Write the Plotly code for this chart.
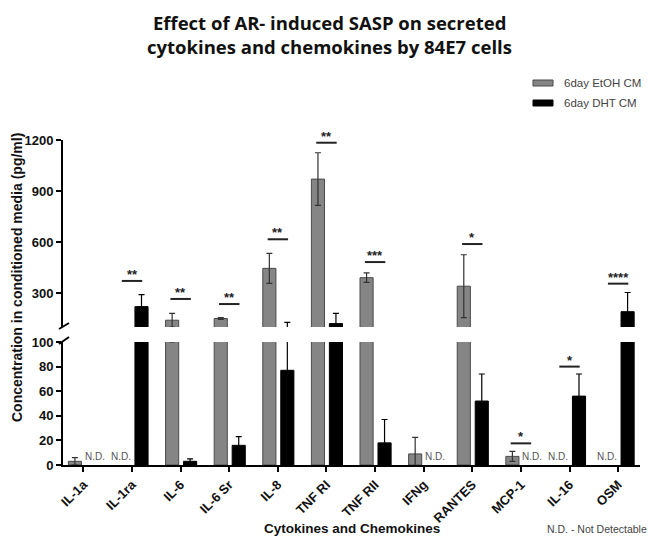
import plotly.graph_objects as go

categories = ["IL-1a", "IL-1ra", "IL-6", "IL-6 Sr", "IL-8", "TNF RI", "TNF RII",
              "IFNg", "RANTES", "MCP-1", "IL-16", "OSM"]
etoh_vals = [3, None, 140, 150, 445, 970, 390, 9, 340, 7, None, None]
etoh_err = [3, None, 40, 5, 88, 155, 28, 13.5, 185, 4, None, None]
dht_vals = [None, 220, 3, 16, 77, 120, 18, None, 52, None, 56, 190]
dht_err = [None, 70, 2, 7, 50, 60, 19, None, 22, None, 18, 113]

# significance markers: (category index, panel, level, label)
sig_idx = [1, 2, 3, 4, 5, 6, 8, 9, 10, 11]
sig_panel = ["u", "u", "u", "u", "u", "u", "u", "l", "l", "u"]
sig_level = [371, 265, 235, 616, 1184, 482, 588, 17.6, 80, 355]
sig_text = ["**", "**", "**", "**", "**", "***", "*", "*", "*", "****"]

lower_ticks = [0, 20, 40, 60, 80, 100]
upper_ticks = [300, 600, 900, 1200]

GRAY = "#858585"
GRAY_LINE = "#4a4a4a"
BW = 0.27
OFF_G = -0.31
OFF_B = 0.06

xs = list(range(len(categories)))
FONT = "Liberation Sans, Arial, sans-serif"

fig = go.Figure()
for yax, xax in [("y", "x"), ("y2", "x2")]:
    fig.add_trace(go.Bar(
        x=xs, y=etoh_vals, width=BW, offset=OFF_G, xaxis=xax, yaxis=yax,
        marker=dict(color=GRAY, line=dict(color=GRAY_LINE, width=1)),
        error_y=dict(type="data", array=etoh_err, symmetric=True,
                     color="#333333", thickness=1.2, width=3),
        name="6day EtOH CM", showlegend=False))
    fig.add_trace(go.Bar(
        x=xs, y=dht_vals, width=BW, offset=OFF_B, xaxis=xax, yaxis=yax,
        marker=dict(color="#000000", line=dict(color="#000000", width=1)),
        error_y=dict(type="data", array=dht_err, symmetric=True,
                     color="#000000", thickness=1.2, width=3),
        name="6day DHT CM", showlegend=False))

# page offset (body margin) and plot area in page pixels: x 63..640, y 140..465
OFF = 8
W, H = 661 - OFF, 549 - OFF
L = 63 - OFF
R = W - (640 - OFF)
T = 140 - OFF
B = H - (465 - OFF)
pw = W - L - R
ph = H - T - B
def px(x):
    return (x - OFF - L) / pw
def py(y):
    return (H - B - (y - OFF)) / ph

low_top = py(342)
up_bot = py(327)

shapes = []
annotations = []

# significance lines and stars
for i, p, lev, s in zip(sig_idx, sig_panel, sig_level, sig_text):
    yref = "y2" if p == "u" else "y"
    shapes.append(dict(type="line", xref="x", yref=yref, x0=i - 0.21, x1=i + 0.21,
                       y0=lev, y1=lev, line=dict(color="#222222", width=2)))
    annotations.append(dict(x=i, y=lev, xref="x", yref=yref, text=s, showarrow=False,
                            yanchor="bottom", yshift=-3,
                            font=dict(family=FONT, size=13, color="#222222", weight="bold")))

# N.D. labels
for i in xs:
    if etoh_vals[i] is None:
        annotations.append(dict(x=i - 0.23, y=0, xref="x", yref="y", text="N.D.",
                                showarrow=False, yanchor="bottom", yshift=1,
                                font=dict(family=FONT, size=10, color="#555555")))
    if dht_vals[i] is None:
        annotations.append(dict(x=i + 0.23, y=0, xref="x", yref="y", text="N.D.",
                                showarrow=False, yanchor="bottom", yshift=1,
                                font=dict(family=FONT, size=10, color="#555555")))

# axis break slashes
for y0, y1 in [(329, 323), (344, 337)]:
    shapes.append(dict(type="line", xref="paper", yref="paper",
                       x0=px(59), x1=px(69), y0=py(y0), y1=py(y1),
                       line=dict(color="#000000", width=2)))

# manual legend
for (yt, yb), label in [((80, 86), "6day EtOH CM"), ((100, 106), "6day DHT CM")]:
    col = GRAY if "EtOH" in label else "#000000"
    lc = GRAY_LINE if "EtOH" in label else "#000000"
    shapes.append(dict(type="rect", xref="paper", yref="paper",
                       x0=px(533), x1=px(553), y0=py(yb), y1=py(yt),
                       fillcolor=col, line=dict(color=lc, width=1)))
    annotations.append(dict(x=px(562), y=py((yt + yb) / 2), xref="paper", yref="paper",
                            text=label, showarrow=False, xanchor="left", yanchor="middle",
                            font=dict(family=FONT, size=11.5, color="#444444")))

# title (two lines)
for ty, line in [(22, "Effect of AR- induced SASP on secreted"),
                 (47, "cytokines and chemokines by 84E7 cells")]:
    annotations.append(dict(x=px(329), y=py(ty), xref="paper", yref="paper",
                            text=line, showarrow=False, xanchor="center", yanchor="middle",
                            font=dict(family="Open Sans, sans-serif", size=18.5,
                                      color="#111111", weight="bold")))
# y title
annotations.append(dict(x=px(17), y=py(278), xref="paper", yref="paper",
                        text="Concentration in conditioned media (pg/ml)", textangle=-90,
                        showarrow=False, xanchor="center", yanchor="middle",
                        font=dict(family=FONT, size=14, color="#111111", weight="bold")))
# x title
annotations.append(dict(x=px(352), y=py(528), xref="paper", yref="paper",
                        text="Cytokines and Chemokines",
                        showarrow=False, xanchor="center", yanchor="middle",
                        font=dict(family=FONT, size=13.5, color="#111111", weight="bold")))
annotations.append(dict(x=px(597), y=py(529), xref="paper", yref="paper",
                        text="N.D. - Not Detectable",
                        showarrow=False, xanchor="center", yanchor="middle",
                        font=dict(family=FONT, size=10.5, color="#444444")))

tickfont = dict(family=FONT, size=13, color="#111111", weight="bold")
xr = [-0.42, 11.45]

fig.update_layout(
    width=W, height=H,
    margin=dict(l=L, r=R, t=T, b=B),
    paper_bgcolor="white", plot_bgcolor="white",
    barmode="overlay", showlegend=False,
    xaxis=dict(domain=[0, 1], anchor="y", range=xr, tickmode="array", tickvals=xs,
               ticktext=categories, tickangle=-45, showline=True, linecolor="#000000",
               linewidth=2, ticks="outside", ticklen=5, tickwidth=2, tickcolor="#000000",
               showgrid=False, zeroline=False, tickfont=tickfont),
    xaxis2=dict(domain=[0, 1], anchor="y2", range=xr, matches="x", visible=False,
                showgrid=False, zeroline=False),
    yaxis=dict(domain=[0, low_top], anchor="x", range=[0, 100], tickmode="array",
               tickvals=lower_ticks, showline=True, linecolor="#000000", linewidth=2,
               ticks="outside", ticklen=5, tickwidth=2, tickcolor="#000000",
               showgrid=False, zeroline=False, tickfont=tickfont),
    yaxis2=dict(domain=[up_bot, 1], anchor="x2", range=[100, 1200], tickmode="array",
                tickvals=upper_ticks, showline=True, linecolor="#000000", linewidth=2,
                ticks="outside", ticklen=5, tickwidth=2, tickcolor="#000000",
                showgrid=False, zeroline=False, tickfont=tickfont),
    shapes=shapes, annotations=annotations,
)

fig.write_html("out.html")
